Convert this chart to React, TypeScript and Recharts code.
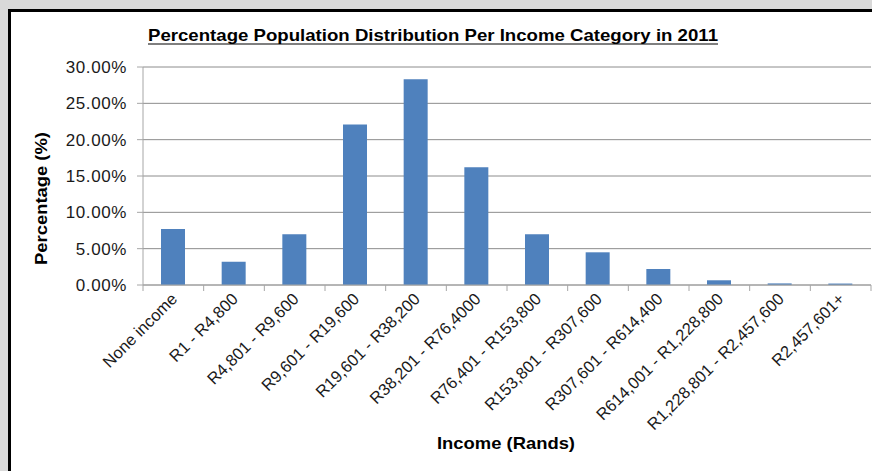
import React from "react";
import { BarChart, Bar, XAxis, YAxis, CartesianGrid } from "recharts";

// Income bands (annual, Rands) and share of population in each, 2011
const incomeBands = [
  "None income",
  "R1 - R4,800",
  "R4,801 - R9,600",
  "R9,601 - R19,600",
  "R19,601 - R38,200",
  "R38,201 - R76,4000",
  "R76,401 - R153,800",
  "R153,801 - R307,600",
  "R307,601 - R614,400",
  "R614,001 - R1,228,800",
  "R1,228,801 - R2,457,600",
  "R2,457,601+",
];

const populationShare = [7.7, 3.2, 7.0, 22.1, 28.3, 16.2, 7.0, 4.5, 2.2, 0.65, 0.22, 0.2];

const percentTicks = [0, 5, 10, 15, 20, 25, 30];

const chartTitle = "Percentage Population Distribution Per Income Category in 2011";
const yAxisTitle = "Percentage (%)";
const xAxisTitle = "Income (Rands)";

const data = incomeBands.map((band, i) => ({ band, share: populationShare[i] }));

const FONT = "'Liberation Sans', Arial, Helvetica, sans-serif";
const BAR_COLOR = "#4f81bd";
const AXIS_COLOR = "#a6a6a6";
const GRID_COLOR = "#8c8c8c";

const W = 872;
const H = 471;
const PLOT_LEFT = 143;
const PLOT_RIGHT = 871;
const PLOT_TOP = 67;
const PLOT_BOTTOM = 285;
const BAND = (PLOT_RIGHT - PLOT_LEFT) / incomeBands.length;

// Category label rotated 45°, plus Excel-style tick marks on band boundaries
const BandTick = (props: any) => {
  const { x, payload, index } = props;
  const left = x - BAND / 2;
  const isLast = index === incomeBands.length - 1;
  return (
    <g>
      <line x1={left} y1={PLOT_BOTTOM} x2={left} y2={PLOT_BOTTOM + 6} stroke={AXIS_COLOR} />
      {isLast && (
        <line x1={left + BAND} y1={PLOT_BOTTOM} x2={left + BAND} y2={PLOT_BOTTOM + 6} stroke={AXIS_COLOR} />
      )}
      <g transform={`translate(${x + 5}, ${PLOT_BOTTOM + 15})`}>
        <text
          transform="rotate(-45)"
          textAnchor="end"
          fontFamily={FONT}
          fontSize={16.5}
          fill="#1a1a1a"
        >
          {payload.value}
        </text>
      </g>
    </g>
  );
};

export default function App() {
  return (
    <div
      style={{
        position: "fixed",
        left: 0,
        top: 0,
        width: W,
        height: H,
        background: "#d9d9d9",
        overflow: "hidden",
      }}
    >
      <div
        style={{
          position: "absolute",
          left: 8,
          top: 9,
          width: 900,
          height: 500,
          background: "#ffffff",
          borderLeft: "3px solid #000",
          borderTop: "3px solid #000",
        }}
      />
      <div style={{ position: "absolute", left: 0, top: 0 }}>
        <BarChart
          width={W}
          height={H}
          data={data}
          margin={{ top: PLOT_TOP, right: W - PLOT_RIGHT, bottom: 0, left: 0 }}
        >
          <CartesianGrid vertical={false} stroke={GRID_COLOR} horizontalValues={percentTicks} />
          <XAxis
            dataKey="band"
            height={H - PLOT_BOTTOM}
            interval={0}
            tickLine={false}
            stroke={AXIS_COLOR}
            tick={<BandTick />}
          />
          <YAxis
            width={PLOT_LEFT}
            domain={[0, 30]}
            ticks={percentTicks}
            tickFormatter={(v: number) => `${v.toFixed(2)}%`}
            stroke={AXIS_COLOR}
            tickSize={6}
            tickMargin={10}
            tick={{ fontFamily: FONT, fontSize: 17, fill: "#1a1a1a", letterSpacing: 0.6 }}
          />
          <Bar dataKey="share" fill={BAR_COLOR} barSize={24} isAnimationActive={false} />
        </BarChart>
      </div>
      <svg
        width={W}
        height={H}
        style={{ position: "absolute", left: 0, top: 0, pointerEvents: "none" }}
      >
        <text
          x={148}
          y={41}
          fontFamily={FONT}
          fontWeight="bold"
          fontSize={17}
          textLength={570}
          lengthAdjust="spacingAndGlyphs"
          fill="#000"
        >
          {chartTitle}
        </text>
        <line x1={148} y1={44} x2={718} y2={44} stroke="#000" strokeWidth={1.2} />
        <text
          transform="translate(47, 198.5) rotate(-90)"
          textAnchor="middle"
          fontFamily={FONT}
          fontWeight="bold"
          fontSize={17}
          textLength={133}
          lengthAdjust="spacingAndGlyphs"
          fill="#000"
        >
          {yAxisTitle}
        </text>
        <text
          x={506}
          y={449}
          textAnchor="middle"
          fontFamily={FONT}
          fontWeight="bold"
          fontSize={17}
          textLength={138}
          lengthAdjust="spacingAndGlyphs"
          fill="#000"
        >
          {xAxisTitle}
        </text>
      </svg>
    </div>
  );
}
